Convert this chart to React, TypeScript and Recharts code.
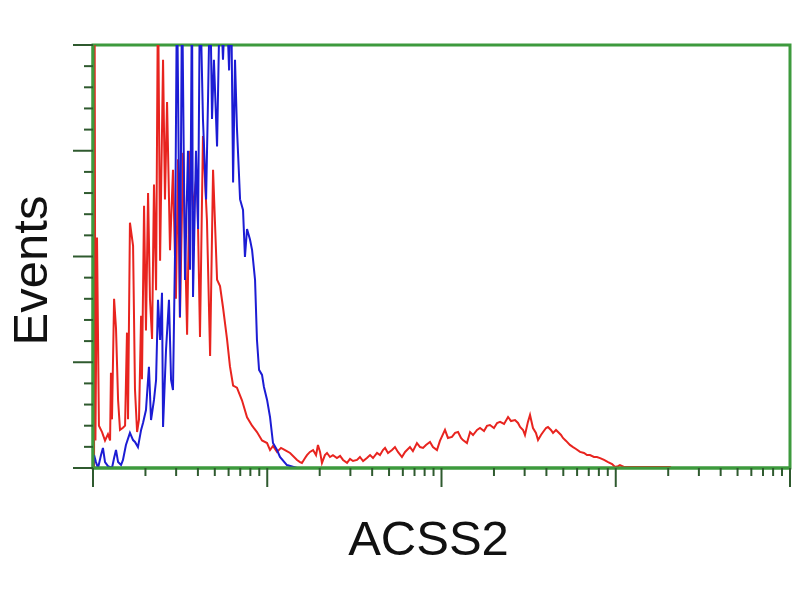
import React from "react";
import { LineChart, Line, XAxis, YAxis, ReferenceArea } from "recharts";

// x = log10 fluorescence (decades), y = events
const redHistogram: [number, number][] = [
  [0.006, 0], [0.009, 230], [0.014, 13], [0.023, 109], [0.034, 20], [0.052, 17], [0.069, 13],
  [0.086, 16], [0.098, 13], [0.103, 45], [0.109, 23], [0.121, 80], [0.132, 66], [0.144, 32],
  [0.155, 18], [0.172, 19], [0.184, 20], [0.195, 64], [0.201, 23], [0.212, 116], [0.23, 105],
  [0.241, 37], [0.253, 17], [0.264, 23], [0.276, 72], [0.281, 42], [0.293, 124], [0.304, 65],
  [0.316, 130], [0.327, 80], [0.339, 61], [0.35, 134], [0.362, 84], [0.373, 230], [0.385, 98],
  [0.402, 193], [0.413, 127], [0.425, 173], [0.442, 103], [0.459, 141], [0.476, 80], [0.488, 146],
  [0.499, 71], [0.517, 149], [0.54, 63], [0.557, 150], [0.574, 122], [0.597, 141], [0.614, 62],
  [0.631, 157], [0.654, 117], [0.672, 53], [0.689, 141], [0.712, 89], [0.729, 86], [0.746, 76],
  [0.769, 61], [0.786, 48], [0.804, 39], [0.826, 38], [0.855, 32], [0.884, 24], [0.913, 20],
  [0.941, 17], [0.97, 13], [0.999, 11.8], [1.016, 8.5], [1.033, 10.4], [1.056, 7.6], [1.079, 9.5],
  [1.102, 8.5], [1.131, 7.1], [1.171, 3.8], [1.188, 2.8], [1.199, 2.4], [1.217, 4.7], [1.228, 6.1],
  [1.245, 7.6], [1.263, 8.5], [1.28, 6.1], [1.291, 10.9], [1.303, 7.6], [1.314, 2.4], [1.331, 6.1],
  [1.343, 7.1], [1.36, 5.2], [1.377, 6.1], [1.4, 4.7], [1.418, 5.7], [1.435, 3.8], [1.458, 2.4],
  [1.475, 4.3], [1.492, 3.3], [1.515, 3.8], [1.532, 5.2], [1.55, 3.3], [1.572, 4.7], [1.59, 6.1],
  [1.607, 4.7], [1.63, 7.1], [1.647, 6.1], [1.664, 8.5], [1.676, 9.5], [1.693, 7.1], [1.716, 8.5],
  [1.733, 9.9], [1.75, 7.6], [1.773, 5.2], [1.791, 7.6], [1.802, 8.5], [1.819, 9.9], [1.836, 8.0],
  [1.859, 11.8], [1.877, 9.9], [1.894, 9.5], [1.911, 10.9], [1.934, 12.3], [1.951, 9.9], [1.974, 8.5],
  [1.991, 12.8], [2.02, 18], [2.037, 14.2], [2.06, 14.7], [2.078, 16.6], [2.095, 17], [2.112, 14.2],
  [2.123, 13.2], [2.146, 11.8], [2.164, 17], [2.181, 15.6], [2.204, 18], [2.221, 18.9], [2.244, 17.5],
  [2.261, 19.9], [2.278, 20.3], [2.301, 18.9], [2.319, 21.3], [2.336, 21.8], [2.359, 20.8],
  [2.382, 24.1], [2.399, 22.2], [2.422, 22.7], [2.439, 21.3], [2.451, 19.4], [2.468, 18],
  [2.479, 15.6], [2.496, 21.8], [2.508, 25.1], [2.525, 18.9], [2.542, 16.6], [2.554, 13.2],
  [2.571, 15.6], [2.583, 17], [2.6, 18.9], [2.611, 19.4], [2.628, 18], [2.64, 16.6], [2.657, 18],
  [2.669, 17], [2.686, 15.6], [2.697, 14.2], [2.715, 12.8], [2.737, 10.9], [2.755, 9.9], [2.772, 9.0],
  [2.795, 7.6], [2.818, 7.1], [2.835, 6.1], [2.852, 6.1], [2.875, 5.2], [2.892, 5.2], [2.91, 4.7],
  [2.933, 3.8], [2.956, 2.8], [2.979, 1.9], [2.996, 0.5], [3.013, 0.9], [3.024, 1.4], [3.047, 0.5],
  [3.065, 0.5], [3.311, 0.5], [3.317, 0],
];

const blueHistogram: [number, number][] = [
  [0.0, 0], [0.006, 6.1], [0.017, 2.8], [0.029, 0], [0.046, 6.1], [0.057, 9.5], [0.069, 2.8],
  [0.086, 0.9], [0.109, 0], [0.121, 4.7], [0.132, 8.5], [0.144, 2.8], [0.161, 1.4], [0.172, 3.8],
  [0.189, 10.9], [0.212, 16.6], [0.23, 13.2], [0.241, 12.3], [0.258, 9.9], [0.276, 18], [0.287, 21.3],
  [0.304, 27.4], [0.321, 47.8], [0.333, 22.7], [0.35, 32.2], [0.362, 41.6], [0.373, 79.5],
  [0.385, 60.5], [0.396, 82.8], [0.402, 19.4], [0.419, 55.8], [0.436, 79.5], [0.448, 41.6],
  [0.459, 36.9], [0.471, 103], [0.482, 230], [0.494, 127], [0.499, 71.4], [0.511, 230], [0.528, 88.9],
  [0.545, 150], [0.557, 93.7], [0.568, 230], [0.574, 80.9], [0.591, 150], [0.603, 113], [0.614, 230],
  [0.631, 165], [0.649, 127], [0.66, 174], [0.672, 230], [0.683, 165], [0.694, 193], [0.712, 152],
  [0.729, 230], [0.746, 193], [0.763, 230], [0.781, 188], [0.792, 230], [0.804, 135], [0.815, 193],
  [0.826, 161], [0.844, 127], [0.861, 122], [0.872, 99.8], [0.884, 113], [0.901, 108], [0.913, 103],
  [0.93, 88.9], [0.941, 60.5], [0.953, 46.4], [0.97, 44], [0.981, 38.3], [0.999, 32.2], [1.016, 24.1],
  [1.033, 11.8], [1.056, 8.5], [1.073, 5.2], [1.113, 1.4], [1.171, 0],
];

const decades = [0, 1, 2, 3];
const xTicks = [...decades.flatMap((d) => [1, 2, 3, 4, 5, 6, 7, 8, 9].map((k) => d + Math.log10(k))), 4];
const yTicks = [0, 10, 20, 30, 40, 50, 60, 70, 80, 90, 100, 110, 120, 130, 140, 150, 160, 170, 180, 190, 200];

const GREEN = "#3d9a3d";
const TICK = "#2f5a2f";
const RED = "#e8241f";
const BLUE = "#1c1cd4";

const redData = redHistogram.map(([x, y]) => ({ x, y }));
const blueData = blueHistogram.map(([x, y]) => ({ x, y }));

function XTick(props: any) {
  const { x, y, payload } = props;
  const major = Math.abs(payload.value - Math.round(payload.value)) < 1e-6;
  return <line x1={x} x2={x} y1={y} y2={y + (major ? 19 : 8)} stroke={TICK} strokeWidth={2} />;
}

function YTick(props: any) {
  const { x, y, payload } = props;
  const major = payload.value % 50 === 0;
  return <line x1={x} x2={x - (major ? 20 : 9)} y1={y} y2={y} stroke={TICK} strokeWidth={2} />;
}

export default function App() {
  return (
    <div style={{ position: "absolute", left: 0, top: 0, background: "#fff" }}>
      <LineChart
        width={800}
        height={600}
        margin={{ top: 45, right: 10, bottom: 0, left: 0 }}
        style={{ fontFamily: "'Liberation Sans', Arial, sans-serif" }}
      >
        <XAxis
          dataKey="x"
          type="number"
          domain={[0, 4]}
          ticks={xTicks}
          interval={0}
          tickSize={0}
          tickMargin={0}
          tickLine={false}
          tick={<XTick />}
          height={132}
          axisLine={{ stroke: GREEN, strokeWidth: 3 }}
          allowDataOverflow
          label={{
            content: (p: any) => (
              <text
                x={p.viewBox.x + p.viewBox.width / 2 - 13}
                y={p.viewBox.y + 87}
                textAnchor="middle"
                fontSize={49}
                fill="#111"
              >
                ACSS2
              </text>
            ),
          }}
        />
        <YAxis
          type="number"
          domain={[0, 200]}
          ticks={yTicks}
          interval={0}
          tickSize={0}
          tickMargin={0}
          tickLine={false}
          tick={<YTick />}
          width={93}
          axisLine={{ stroke: GREEN, strokeWidth: 3 }}
          allowDataOverflow
          label={{
            content: (p: any) => (
              <text
                x={p.viewBox.x + 47}
                y={p.viewBox.y + p.viewBox.height / 2 + 14}
                transform={`rotate(-90, ${p.viewBox.x + 47}, ${p.viewBox.y + p.viewBox.height / 2 + 14})`}
                textAnchor="middle"
                fontSize={49}
                fill="#111"
              >
                Events
              </text>
            ),
          }}
        />
        <ReferenceArea
          x1={0}
          x2={4}
          y1={0}
          y2={200}
          fill="none"
          stroke={GREEN}
          strokeWidth={3}
          ifOverflow="visible"
        />
        <Line
          data={redData}
          dataKey="y"
          type="linear"
          stroke={RED}
          strokeWidth={2}
          dot={false}
          isAnimationActive={false}
        />
        <Line
          data={blueData}
          dataKey="y"
          type="linear"
          stroke={BLUE}
          strokeWidth={2}
          dot={false}
          isAnimationActive={false}
        />
      </LineChart>
    </div>
  );
}
